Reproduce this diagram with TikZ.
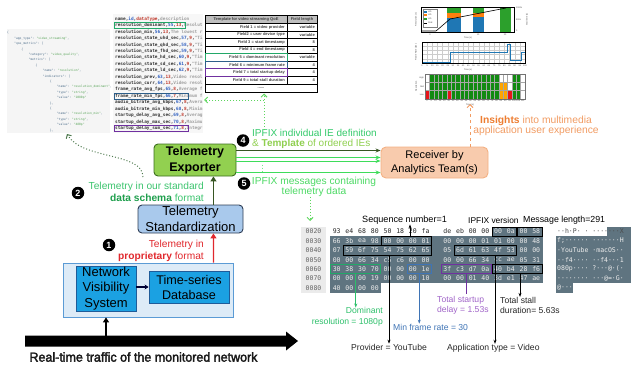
\documentclass[tikz,border=0pt]{standalone}
\usepackage{fontspec}
\setmainfont{Liberation Sans}
\newfontfamily\hexfont{DejaVu Sans Mono}
\newfontfamily\bannerfont[FakeStretch=0.96,FakeBold=2.5]{Liberation Sans}
\usetikzlibrary{arrows.meta,positioning}

\definecolor{outerfill}{HTML}{DDEBF7}
\definecolor{outerdraw}{HTML}{5B9BD5}
\definecolor{nvsfill}{HTML}{1BA1E2}
\definecolor{nvsdraw}{HTML}{1F5C99}
\definecolor{stdfill}{HTML}{A9C9EC}
\definecolor{stddraw}{HTML}{2E3D55}
\definecolor{expfill}{HTML}{92D050}
\definecolor{expdraw}{HTML}{3C6E1E}
\definecolor{recfill}{HTML}{F8CBAD}
\definecolor{recdraw}{HTML}{F4B183}
\definecolor{darkgreen}{HTML}{375623}
\definecolor{stdgreen}{HTML}{3CC46E}
\definecolor{boldgreen}{HTML}{1E9E4C}
\definecolor{ipfixgreen}{HTML}{33C96A}
\definecolor{limegreen}{HTML}{8FCF4F}
\definecolor{msggreen}{HTML}{4CD964}
\definecolor{arrowgreen}{HTML}{3EDC5A}
\definecolor{dotgreen}{HTML}{5ED65E}
\definecolor{curvegreen}{HTML}{4E7A4E}
\definecolor{propred}{HTML}{E0282D}
\definecolor{insorange}{HTML}{ED7D31}
\definecolor{lightorange}{HTML}{F19B62}
\definecolor{hexshade}{HTML}{5F7480}
\definecolor{offsetgray}{HTML}{EBEBEB}
\definecolor{resgreen}{HTML}{2DBF6A}
\definecolor{rateblue}{HTML}{3F74B5}
\definecolor{delaypurple}{HTML}{A064C8}
\definecolor{boxpurple}{HTML}{7030A0}
\definecolor{boxblue}{HTML}{2E5F8A}
\definecolor{boxgreen}{HTML}{22A868}
\definecolor{jsonkey}{HTML}{50708C}
\definecolor{jsonval}{HTML}{5AA55A}
\definecolor{csvname}{HTML}{333333}
\definecolor{csvid}{HTML}{2F5FC0}
\definecolor{csvtype}{HTML}{C0392B}
\definecolor{csvdesc}{HTML}{A0A0A0}
\definecolor{cblue}{HTML}{1F77B4}
\definecolor{corange}{HTML}{FF7F0E}
\definecolor{cgreen}{HTML}{2CA02C}
\definecolor{heatgreen}{HTML}{118A11}
\definecolor{heatorange}{HTML}{FFA500}
\definecolor{heatred}{HTML}{E8141A}

\newcommand{\textsz}[2]{\fontsize{#1}{#2}\selectfont}
% one line of the JSON view: line, indent, text
\newcommand{\jl}[3]{\node[jsontxt] at ({7+7.1*#2},{33+5.4*#1}) {#3};}
\newcommand{\jkv}[2]{\textcolor{jsonkey}{"#1"}: \textcolor{jsonval}{#2}}
% one line of the IE list: line, name, id, type, description
\newcommand{\cl}[5]{\node[csvtxt] at (115,{19+6.44*#1}) {#2,\textcolor{csvid}{#3},\textcolor{csvtype}{#4},\textcolor{csvdesc}{#5}};}
% one row of the template table
\newcommand{\trow}[3]{%
  \node[tabtxt,anchor=east] at (285,{23.3+7.58*(#1-0.5)}) {#2};
  \node[tabtxt,anchor=east] at (315,{23.3+7.58*(#1-0.5)}) {#3};
  \draw[tabline] (205,{23.3+7.58*#1}) -- (317,{23.3+7.58*#1});}
% a frame round some bytes: name, colour, row, left, right
\newcommand{\hexmark}[5]{\node[hexbox,draw=#2,minimum width={(#5-#4)*1pt}] (#1) at ({(#4+#5)/2},{231.5+9.4*#3}) {};}

\begin{document}
\begin{tikzpicture}[x=1pt, y=-1pt,
  box/.style={draw, line width=0.9pt, rounded corners=4pt, align=center, inner sep=0pt},
  stepnum/.style={circle, fill=black, text=white, inner sep=0pt, minimum size=12.5pt, font=\bfseries\textsz{9}{9}},
  flow/.style={line width=1.3pt, -{Triangle[length=5pt,width=6pt]}},
  lbl/.style={inner sep=0pt, font=\textsz{10.2}{11.5}},
  jsontxt/.style={anchor=west, inner sep=0pt, font=\hexfont\textsz{3}{3}, text=jsonkey},
  csvtxt/.style={anchor=west, inner sep=0pt, font=\hexfont\bfseries\textsz{4.4}{5}, text=csvname},
  tabtxt/.style={inner sep=0pt, font=\bfseries\textsz{4}{4.5}, text=black!75},
  tabline/.style={line width=0.6pt},
  hexbyte/.style={inner sep=0pt, font=\hexfont\textsz{6.5}{7}},
  hexbox/.style={draw, line width=0.8pt, minimum height=9.2pt, inner sep=0pt},
  hexlbl/.style={inner sep=0pt, font=\textsz{8.6}{10.5}},
  tiny/.style={inner sep=0pt, font=\textsz{2.2}{2.5}, text=black!70},
  gridline/.style={black!20, line width=0.3pt},
  dotarrow/.style={dotgreen, dotted, line width=1pt, -{Straight Barb[length=3pt]}},
  ]
\useasboundingbox (0,0) rectangle (631,364);

% ---- JSON view of the standard schema ----
\fill[black!4] (7,29) rectangle (110,133);
\jl{0}{0}{\{}
\jl{1}{1}{\jkv{app\_type}{"video\_streaming"},}
\jl{2}{1}{\textcolor{jsonkey}{"qoe\_metrics"}: [}
\jl{3}{2}{\{}
\jl{4}{3}{\jkv{category}{"video\_quality"},}
\jl{5}{3}{\textcolor{jsonkey}{"metrics"}: [}
\jl{6}{4}{\{}
\jl{7}{5}{\jkv{name}{"resolution"},}
\jl{8}{5}{\textcolor{jsonkey}{"indicators"}: [}
\jl{9}{6}{\{}
\jl{10}{7}{\jkv{name}{"resolution\_dominant"},}
\jl{11}{7}{\jkv{type}{"string"},}
\jl{12}{7}{\jkv{value}{"1080p"}}
\jl{13}{6}{\},}
\jl{14}{6}{\{}
\jl{15}{7}{\jkv{name}{"resolution\_min"},}
\jl{16}{7}{\jkv{type}{"string"},}
\jl{17}{7}{\jkv{value}{"480p"}}
\jl{18}{6}{\},}

% ---- IE definitions ----
\fill[black!3] (113,14) rectangle (203,133);
\begin{scope}
\clip (113,14) rectangle (203,133);
\cl{0}{name}{id}{dataType}{description}
\cl{1}{resolution\_dominant}{55}{13}{Resolut}
\cl{2}{resolution\_min}{56}{13}{The lowest r}
\cl{3}{resolution\_state\_uhd\_sec}{57}{9}{"Ti}
\cl{4}{resolution\_state\_qhd\_sec}{58}{9}{"Ti}
\cl{5}{resolution\_state\_fhd\_sec}{59}{9}{"Ti}
\cl{6}{resolution\_state\_hd\_sec}{60}{9}{"Tim}
\cl{7}{resolution\_state\_sd\_sec}{61}{9}{"Tim}
\cl{8}{resolution\_state\_ld\_sec}{62}{9}{"Tim}
\cl{9}{resolution\_prev}{63}{13}{Video resol}
\cl{10}{resolution\_curr}{64}{13}{Video resol}
\cl{11}{frame\_rate\_avg\_fps}{65}{8}{Average f}
\cl{12}{frame\_rate\_min\_fps}{66}{7}{Minimum f}
\cl{13}{audio\_bitrate\_avg\_kbps}{67}{8}{Avera}
\cl{14}{audio\_bitrate\_min\_kbps}{68}{8}{Minim}
\cl{15}{startup\_delay\_avg\_sec}{69}{8}{Averag}
\cl{16}{startup\_delay\_max\_sec}{70}{8}{Maximu}
\cl{17}{startup\_delay\_sum\_sec}{71}{8}{Integr}
\end{scope}
\draw[boxgreen, line width=0.8pt] (114.5,22) rectangle (185,28.8);
\draw[boxblue, line width=0.8pt] (114.5,93) rectangle (188,99.6);
\draw[boxpurple, line width=0.8pt] (114.5,125) rectangle (188,131.6);

% ---- template table ----
\fill[black!25] (205,15.7) rectangle (317,23.3);
\node[tabtxt] at (246,19.5) {Template for video streaming QoE};
\node[tabtxt] at (302,19.5) {Field length};
\draw[tabline] (205,23.3) -- (317,23.3);
\trow{1}{Field 1 = video provider}{variable}
\trow{2}{Field2 = user device type}{variable}
\trow{3}{Field 3 = start timestamp}{8}
\trow{4}{Field 4 = end timestamp}{8}
\trow{5}{Field 5 = dominant resolution}{variable}
\trow{6}{Field 6 = minimum frame rate}{4}
\trow{7}{Field 7 = total startup delay}{4}
\trow{8}{Field 9 = total stall duration}{4}
\node[tabtxt] at (261,88) {......};
\draw[tabline] (205,15.7) rectangle (317,92);
\draw[tabline] (287,15.7) -- (287,84);
\draw[boxgreen, line width=0.8pt] (205,53.6) rectangle (287,61.2);
\draw[boxblue, line width=0.8pt] (205,61.2) rectangle (287,68.8);
\draw[boxpurple, line width=0.8pt] (205,68.8) rectangle (287,76.4);

% ---- QoE dashboards ----
% stacked bars
\fill[cblue] (447,18) rectangle (461,32); \fill[corange] (447,13) rectangle (461,18); \fill[cgreen] (447,8) rectangle (461,13);
\fill[cblue] (473,17) rectangle (484,32); \fill[corange] (473,13) rectangle (484,17); \fill[cgreen] (473,8) rectangle (484,13);
\fill[cgreen] (500,8) rectangle (511,32);
\draw[line width=0.6pt] (422,31) -- (436,31) -- (450,19) -- (506,8);
\draw[black!50, line width=0.3pt, fill=white] (423,9) rectangle (437,27);
\foreach \c/\ly in {cblue/11.5, corange/15, cgreen/18.5} {
  \fill[\c] (424,\ly-1) rectangle (427,\ly+1);
  \node[tiny, anchor=west] at (428,\ly) {HD};
}
\draw[line width=0.5pt] (424,23) -- (427,23);
\node[tiny, anchor=west] at (428,23) {Stall};
\draw[line width=0.8pt] (421,7) rectangle (514,32);
\node[tiny, rotate=90] at (416,19.5) {Resolution (s)};
\node[tiny, rotate=90] at (527,19.5) {Stall time (s)};
\foreach \t/\tx in {0/430, 10/478, 20/505} \node[tiny] at (\tx,34.5) {\t};
\foreach \t/\ty in {1000s/8, 500s/20, 0/31} \node[tiny, anchor=west] at (516,\ty) {\t};
\node[tiny] at (468,37.5) {Time (s)};
% frame rate
\foreach \gx in {1,...,19} \draw[gridline] ({422+5.15*\gx},42) -- ({422+5.15*\gx},63);
\foreach \gy in {1,...,4} \draw[gridline] (422,{42+4.2*\gy}) -- (525,{42+4.2*\gy});
\draw[cblue, line width=0.8pt] (422,62) -- (450,62) -- (450,52) -- (507,52) -- (507,44.5) -- (510,44.5) -- (510,60) -- (521,60) -- (521,52) -- (525,52);
\draw[line width=0.8pt] (422,42) rectangle (525,63);
\node[tiny, rotate=90] at (416,52.5) {Frame Rate (fps)};
\foreach \gx in {0,...,20} \node[tiny] at ({422+5.15*\gx},65.3) {\the\numexpr\gx*5\relax};
\node[tiny] at (468,69.5) {Time (s)};
% resolution heat map
\fill[heatgreen] (425,74) rectangle (520.7,99);
\fill[white] (425,74) rectangle (429.3,90.7);
\fill[heatred] (425,90.7) rectangle (429.3,99);
\fill[heatred] (446.7,90.7) rectangle (451.1,99);
\fill[white] (498.9,74) rectangle (512,82.3);
\fill[white] (507.6,82.3) rectangle (512,90.7);
\fill[heatorange] (498.9,82.3) rectangle (507.6,99);
\fill[heatred] (507.6,90.7) rectangle (512,99);
\fill[white] (520.7,74) rectangle (525,99);
\foreach \gx in {1,...,22} \draw[black!35, line width=0.4pt] ({425+4.348*\gx},74) -- ({425+4.348*\gx},99);
\foreach \gy in {1,2} \draw[black!35, line width=0.4pt] (425,{74+8.33*\gy}) -- (525,{74+8.33*\gy});
\draw[black!55, line width=1pt] (425,74) rectangle (525,99);
\node[tiny, rotate=90] at (416,86.5) {Resolution};
\foreach \t/\ty in {High/78, Mid/86.5, Low/95} \node[tiny, anchor=east] at (424,\ty) {\t};
\foreach \gx in {0,...,22} \node[tiny] at ({427+4.348*\gx},101) {\the\numexpr\gx*5\relax};
\node[tiny] at (470,104.5) {Time (s)};

% ---- pipeline ----
\node[draw=outerdraw, fill=outerfill, line width=0.8pt, minimum width=170pt, minimum height=54pt] (outer) at (148,290) {};
\node[box, draw=nvsdraw, fill=nvsfill, rounded corners=0pt, minimum width=60pt, minimum height=45pt, font=\textsz{13}{15.5}] (nvs) at (106,288.5) {Network\\Visibility\\System};
\node[box, draw=nvsdraw, fill=nvsfill, rounded corners=0pt, minimum width=80pt, minimum height=32pt, font=\textsz{12.6}{15}] (tsdb) at (189,287) {Time-series\\Database};
\node[box, draw=stddraw, fill=stdfill, minimum width=105pt, minimum height=28pt, font=\textsz{13}{16}] (std) at (190.5,219) {Telemetry\\Standardization};
\node[box, draw=expdraw, fill=expfill, minimum width=82pt, minimum height=32pt, font=\bfseries\textsz{12.5}{15.6}] (exporter) at (195,160) {Telemetry\\Exporter};
\node[box, draw=recdraw, fill=recfill, minimum width=107pt, minimum height=31pt, rounded corners=5pt, font=\textsz{11}{14}] (receiver) at (434.5,162.5) {Receiver by\\Analytics Team(s)};

% monitored traffic
\fill (25,335.5) -- (286,335.5) -- (286,331.5) -- (298,341) -- (286,350.5) -- (286,346.5) -- (25,346.5) -- cycle;
\coordinate (traffic) at (106,335.5);
\node[inner sep=0pt, font=\bannerfont\textsz{13}{14}, text=black!90] (trafficlbl) at (143.5,357) {Real-time traffic of the monitored network};
\draw[flow, line width=1.2pt, black] (traffic) -- (outer.south -| nvs);
\draw[line width=1.4pt, black!80!blue, -{Stealth[length=4pt,width=5pt]}] (nvs.east |- tsdb) -- (tsdb.west);

% step 1
\draw[flow, propred] ([xshift=-20pt]outer.north east) -- ([xshift=-30pt]std.south east);
\node[stepnum] (n1) at (109,245) {1};
\node[lbl, text=propred, align=right, anchor=east] (proplbl) at (204,251) {Telemetry in\\\textbf{proprietary} format};

% step 2
\draw[flow, darkgreen] ([xshift=-30pt]std.north east) -- ([xshift=-23pt]exporter.south east);
\node[stepnum] (n2) at (78,193) {2};
\node[lbl, text=stdgreen, align=right, anchor=east] (stdlbl) at (204,192) {Telemetry in our standard\\\textcolor{boldgreen}{\textbf{data schema}} format};
\coordinate (schemasrc) at (143,177);
\coordinate (jsonbot) at (67,134);
\draw[curvegreen, dotted, line width=1pt, -{Straight Barb[length=3pt]}] (schemasrc) .. controls (143,152) and (82,160) .. (jsonbot);

% step 4
\node[stepnum] (n4) at (243,140.5) {4};
\node[lbl, align=left, anchor=west, font=\textsz{10}{10}] (tmpllbl) at (252,139.3) {\textcolor{ipfixgreen}{IPFIX individual IE definition}\\\textcolor{limegreen}{\& \textbf{Template} of ordered IEs}};
\coordinate (tmplsrc) at (264,130);
\coordinate (tabbot) at (264,93.5);
\coordinate (listedge) at (204,100);
\draw[dotarrow] (tmplsrc) -- (tabbot);
\draw[dotarrow] (tmplsrc |- listedge) -- (listedge);

% template and data messages
\draw[darkgreen, line width=1pt, -{Stealth[length=5pt,width=4pt]}] (exporter.east |- 0,150.5) -- (receiver.west |- 0,150.5);
\draw[arrowgreen, line width=1pt, -{Stealth[length=5pt,width=4pt]}] (exporter.east |- 0,157.5) -- (receiver.west |- 0,157.5);
\draw[arrowgreen, line width=1pt, -{Stealth[length=5pt,width=4pt]}] (exporter.east |- 0,161) -- (receiver.west |- 0,161);
\draw[arrowgreen, line width=1pt, -{Stealth[length=5pt,width=4pt]}] (exporter.east |- 0,172.5) -- (receiver.west |- 0,172.5);
\draw[arrowgreen!70, dotted, line width=1pt] (262,164.5) -- (262,171);

% step 5
\node[stepnum] (n5) at (244,183.5) {5};
\node[lbl, align=center, text=msggreen, font=\textsz{10.2}{9.6}] (msglbl) at (314,187) {IPFIX messages containing\\telemetry data};
\coordinate (dumptop) at (310,221);
\draw[dotarrow] (msglbl.south -| dumptop) -- (dumptop);

% insights
\coordinate (insight) at (470,104);
\draw[lightorange, dashed, line width=1pt, -{Straight Barb[length=3pt]}] (receiver.north -| insight) -- (insight);
\node[lbl, align=center, font=\textsz{10.3}{9.8}, text=lightorange] (inslbl) at (536,125.5) {\textcolor{insorange}{\textbf{Insights}} into multimedia\\application user experience};

% ---- captured IPFIX message ----
\fill[offsetgray] (301,226.8) rectangle (326,292.6);
\fill[hexshade] (491.5,226.8) rectangle (543,236.2);
\fill[hexshade] (330,236.2) rectangle (543,283.2);
\fill[hexshade] (330,283.2) rectangle (381,292.6);
\fill[hexshade] (607,226.8) rectangle (631,236.2);
\fill[hexshade] (556,236.2) rectangle (631,283.2);
\fill[hexshade] (556,283.2) rectangle (573,292.6);
\foreach \r/\off/\bytes/\txt in {
  0/0020/{93,e4,68,80,50,18,20,fa,de,eb,00,00,00,0a,00,58}/{··h·P·\ ·\ ·······X},
  1/0030/{66,3b,ea,98,00,00,00,01,00,00,00,01,01,00,00,48}/{f;······\ ·······H},
  2/0040/{07,59,6f,75,54,75,62,65,05,6d,61,63,4f,53,00,00}/{·YouTube\ ·macOS··},
  3/0050/{00,00,66,34,c5,c6,00,00,00,00,66,34,cc,ae,05,31}/{··f4····\ ··f4···1},
  4/0060/{30,38,30,70,00,00,00,1e,3f,c3,d7,0a,40,b4,28,f6}/{080p····\ ?···@·(·},
  5/0070/{00,00,00,19,00,00,00,10,00,00,01,40,3d,e1,47,ae}/{········\ ···@=·G·},
  6/0080/{40,00,00,00}/{@···}} {
  \node[hexbyte, text=black!60] at (313.5,{231.5+9.4*\r}) {\off};
  \foreach \b [count=\k from 0] in \bytes {
    \pgfmathsetmacro{\bxp}{\k<8 ? 336.7+12.7*\k : 447.3+12.7*(\k-8)}
    \pgfmathtruncatemacro{\dark}{(\r==0)&&(\k<12)}
    \ifnum\dark=1 \def\bcol{black!85}\else\def\bcol{white!92!black}\fi
    \node[hexbyte, text=\bcol] at (\bxp,{231.5+9.4*\r}) {\b};
  }
  \ifnum\r=0
    \node[hexbyte, anchor=west, text=black!70] at (557,231.5) {\txt};
  \else
    \node[hexbyte, anchor=west, text=white!92!black] at (557,{231.5+9.4*\r}) {\txt};
  \fi
}
\hexmark{verbox}{black}{0}{492}{516.8}
\hexmark{lenbox}{black}{0}{517.4}{542.2}
\hexmark{seqbox}{black}{1}{381.5}{431.6}
\hexmark{ytbox}{black}{2}{343.4}{431.6}
\hexmark{osbox}{black}{2}{454}{516.8}
\hexmark{resbox}{boxgreen}{4}{330.7}{380.8}
\hexmark{ratebox}{rateblue}{4}{406.9}{431.6}
\hexmark{delaybox}{boxpurple}{4}{441.3}{491.4}
\hexmark{stallbox}{black}{4}{492}{542.2}

\node[hexlbl, font=\textsz{9.1}{10}, anchor=west] (seqlbl) at (362,220) {Sequence number=1};
\node[hexlbl, font=\textsz{8.4}{10}, anchor=west] (verlbl) at (468,220) {IPFIX version};
\node[hexlbl, font=\textsz{8.8}{10}, anchor=west] (lenlbl) at (523,220) {Message length=291};
\draw[black, line width=0.7pt, -{Stealth[length=4pt,width=3pt]}] (seqbox.north -| 410,0) -- (seqlbl.south -| 410,0);

\node[hexlbl, text=resgreen, align=right, anchor=east] (reslbl) at (383,317) {Dominant\\resolution = 1080p};
\node[hexlbl, text=rateblue, anchor=west] (ratelbl) at (393,327) {Min frame rate = 30};
\node[hexlbl, text=delaypurple, align=left, anchor=west] (delaylbl) at (437,305.5) {Total startup\\delay = 1.53s};
\node[hexlbl, text=black!85, align=left, anchor=west] (stalllbl) at (500,305.5) {Total stall\\duration= 5.63s};
\node[hexlbl, text=black!85, anchor=west] (provlbl) at (351,347) {Provider = YouTube};
\node[hexlbl, text=black!85, anchor=west] (applbl) at (447,348) {Application type = Video};

\draw[resgreen, line width=0.7pt, -{Stealth[length=4pt,width=3pt]}] (resbox.south) -- (resbox.south |- reslbl.north);
\draw[rateblue, line width=0.7pt, -{Stealth[length=4pt,width=3pt]}] (ratebox.south) -- (ratebox.south |- ratelbl.north);
\draw[boxpurple, line width=0.7pt] (delaybox.south) -- ([yshift=2pt]delaybox.south |- delaylbl.north);
\draw[black, line width=0.7pt, -{Stealth[length=4pt,width=3pt]}] (stallbox.south -| 520,0) -- (stalllbl.north -| 520,0);
\draw[black, line width=0.7pt, -{Stealth[length=4pt,width=3pt]}] (ytbox.south -| 389,0) -- (provlbl.north -| 389,0);
\draw[black, line width=0.7pt, -{Stealth[length=4pt,width=3pt]}] (osbox.south -| 495,0) -- (applbl.north -| 495,0);
\end{tikzpicture}
\end{document}
